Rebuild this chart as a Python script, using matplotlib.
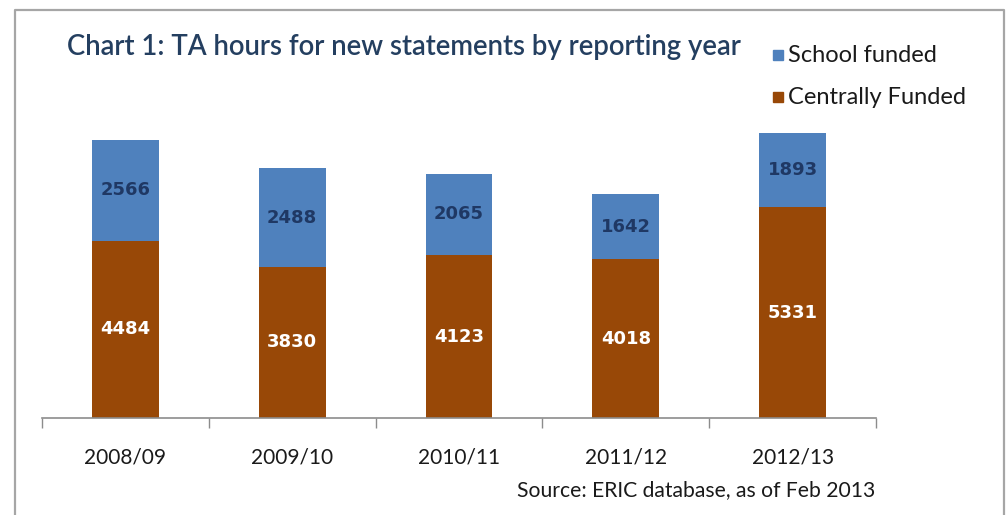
import numpy as np
import matplotlib.pyplot as plt
from matplotlib.patches import Rectangle
from matplotlib.lines import Line2D

# TA hours for new statements, split by funding source
years = ['2008/09', '2009/10', '2010/11', '2011/12', '2012/13']
centrally_funded = [4484, 3830, 4123, 4018, 5331]
school_funded = [2566, 2488, 2065, 1642, 1893]

blue = '#4F81BD'
brown = '#984807'
navy = '#1F3864'
title_blue = '#243F60'

W, H = 1006, 515
fig = plt.figure(figsize=(W / 100, H / 100), dpi=100)
fig.patch.set_facecolor('white')

# chart frame
frame = Line2D([15 / W, 15 / W, 1004 / W, 1004 / W], [0, 1 - 10 / H, 1 - 10 / H, 0],
               transform=fig.transFigure, color='#A6A6A6', lw=1.6)
fig.add_artist(frame)

ax = fig.add_axes([42 / W, (H - 418) / H, (876 - 42) / W, (418 - 102) / H])
x = np.arange(len(years))
ax.bar(x, centrally_funded, width=0.4, color=brown, label='Centrally Funded')
ax.bar(x, school_funded, width=0.4, bottom=centrally_funded, color=blue, label='School funded')

for xi, c, s in zip(x, centrally_funded, school_funded):
    ax.text(xi, c / 2, str(c), ha='center', va='center', color='white',
            fontsize=13, fontweight='bold', family='DejaVu Sans')
    ax.text(xi, c + s / 2, str(s), ha='center', va='center', color=navy,
            fontsize=13, fontweight='bold', family='DejaVu Sans')

ax.set_xlim(-0.5, len(years) - 0.5)
ax.set_ylim(0, 8000)
ax.set_yticks([])
for side in ['top', 'right', 'left']:
    ax.spines[side].set_visible(False)
ax.spines['bottom'].set_color('#8C8C8C')
ax.spines['bottom'].set_linewidth(1.2)

ax.set_xticks(x)
ax.set_xticklabels(years, fontsize=15, family='Lato', color='#1a1a1a')
ax.tick_params(axis='x', which='major', length=0, pad=21)
ax.set_xticks(np.arange(-0.5, len(years)), minor=True)
ax.tick_params(axis='x', which='minor', length=7, width=1, color='#8C8C8C', direction='out')

fig.text(67 / W, 1 - 47 / H, 'Chart 1: TA hours for new statements by reporting year',
         fontsize=19.8, family='Lato', fontweight='semibold', color=title_blue,
         va='center', ha='left')

# legend
for y, col, lab in [(55, blue, 'School funded'), (97, brown, 'Centrally Funded')]:
    fig.add_artist(Rectangle((773 / W, 1 - (y + 5) / H), 10 / W, 10 / H,
                             transform=fig.transFigure, color=col))
    fig.text(788 / W, 1 - y / H, lab, fontsize=17, family='Lato', color='#1a1a1a',
             va='center', ha='left')

fig.text(875 / W, 1 - 490 / H, 'Source: ERIC database, as of Feb 2013',
         fontsize=15.2, family='Lato', color='#1a1a1a', va='center', ha='right')

fig.savefig('out.png', dpi=100, facecolor='white')
